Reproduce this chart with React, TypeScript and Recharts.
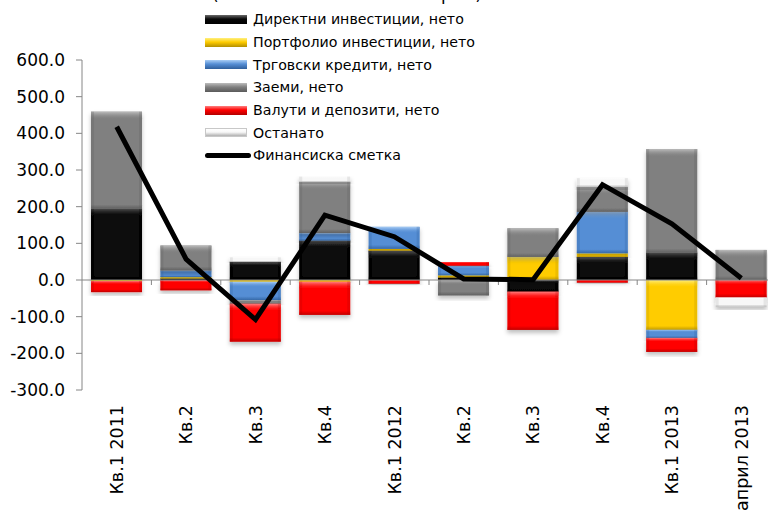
import React from "react";
import { ComposedChart, Bar, Line, XAxis, YAxis, ReferenceLine } from "recharts";

const CATEGORIES = ["Кв.1 2011", "Кв.2", "Кв.3", "Кв.4", "Кв.1 2012", "Кв.2", "Кв.3", "Кв.4", "Кв.1 2013", "април 2013"];
const DIRECT = [195, 4, 50, 108, 80, 7, -32, 63, 75, 0];
const PORTFOLIO = [-3, 4, -5, -5, 5, 6, 63, 10, -136, 0];
const TRADE = [0, 18, -50, 20, 60, 26, 0, 113, -22, 0];
const LOANS = [264, 68, -10, 140, 0, -42, 78, 68, 282, 82];
const CURRENCY = [-30, -28, -103, -90, -10, 10, -104, -7, -38, -48];
const OTHER = [0, 0, 12, 14, 0, 0, 0, 24, 0, -25];
const FINANCIAL = [418, 57, -108, 177, 118, 3, 1, 260, 153, 5];
const Y_TICKS = [-300, -200, -100, 0, 100, 200, 300, 400, 500, 600];
const TITLE = "(во милиони евра)";

const data = CATEGORIES.map((c, i) => ({
  name: c,
  direct: DIRECT[i],
  portfolio: PORTFOLIO[i],
  trade: TRADE[i],
  loans: LOANS[i],
  currency: CURRENCY[i],
  other: OTHER[i],
  fin: FINANCIAL[i],
}));

const SERIES = [
  { key: "direct", name: "Директни инвестиции, нето", color: "#080808", light: "#6a6a6a", dark: "#000000" },
  { key: "portfolio", name: "Портфолио инвестиции, нето", color: "#ffcc00", light: "#fff080", dark: "#b38f00" },
  { key: "trade", name: "Трговски кредити, нето", color: "#558ed5", light: "#a9cdf5", dark: "#2f5f9c" },
  { key: "loans", name: "Заеми, нето", color: "#808080", light: "#bdbdbd", dark: "#5a5a5a" },
  { key: "currency", name: "Валути и депозити, нето", color: "#ff0000", light: "#ff8080", dark: "#b30000" },
  { key: "other", name: "Останато", color: "#f7f7f7", light: "#ffffff", dark: "#b0b0b0" },
];

const FONT = "'DejaVu Sans', Verdana, sans-serif";

function Bevel(props: any) {
  const { x, y, width, height, s } = props;
  if (x == null || y == null || !width || !height) return null;
  const top = Math.min(y, y + height);
  const h = Math.abs(height);
  if (h < 0.5) return null;
  const hl = Math.min(8, h * 0.3);
  const bl = Math.min(4, h * 0.25);
  const side = Math.min(3, width * 0.1);
  return (
    <g filter="url(#barShadow)">
      <rect x={x} y={top} width={width} height={h} fill={s.color} />
      <rect x={x} y={top} width={width} height={hl} fill={`url(#hl-${s.key})`} />
      <rect x={x} y={top + h - bl} width={width} height={bl} fill={`url(#dk-${s.key})`} />
      <rect x={x} y={top} width={side} height={h} fill={s.dark} opacity={0.25} />
      <rect x={x + width - side} y={top} width={side} height={h} fill={s.dark} opacity={0.25} />
    </g>
  );
}

function XTick(props: any) {
  const { x, y, payload } = props;
  return (
    <text
      x={x}
      y={y + 15}
      transform={`rotate(-90, ${x}, ${y + 15})`}
      textAnchor="end"
      dy="0.36em"
      fontFamily={FONT}
      fontSize={17.5}
      fill="#000"
    >
      {payload.value}
    </text>
  );
}

function ZeroAxis(props: any) {
  const { x1, y1, x2, y2 } = props;
  const n = CATEGORIES.length;
  const step = (x2 - x1) / n;
  return (
    <g>
      <line x1={x1} y1={y1} x2={x2} y2={y2} stroke="#868686" strokeWidth={1} />
      {CATEGORIES.map((_, i) => (
        <line key={i} x1={x1 + (i + 1) * step} x2={x1 + (i + 1) * step} y1={y1} y2={y1 + 5} stroke="#868686" strokeWidth={1} />
      ))}
    </g>
  );
}

function LegendBox() {
  return (
    <div style={{ position: "absolute", left: 205, top: 8, fontFamily: FONT, fontSize: 14.2, color: "#000" }}>
      {SERIES.map((s) => (
        <div key={s.key} style={{ height: 22.7, display: "flex", alignItems: "center", whiteSpace: "nowrap" }}>
          <div
            style={{
              width: 42,
              height: 9,
              marginRight: 6,
              background: `linear-gradient(to bottom, ${s.light} 0%, ${s.color} 45%, ${s.dark} 100%)`,
              border: s.key === "other" ? "1px solid #c8c8c8" : "none",
              boxSizing: "border-box",
            }}
          />
          <span>{s.name}</span>
        </div>
      ))}
      <div style={{ height: 22.7, display: "flex", alignItems: "center", whiteSpace: "nowrap" }}>
        <div style={{ width: 46, height: 5, borderRadius: 3, background: "#000", marginRight: 2 }} />
        <span>Финансиска сметка</span>
      </div>
    </div>
  );
}

export default function App() {
  return (
    <div style={{ position: "absolute", left: 0, top: 0, width: 768, height: 515, overflow: "hidden", background: "#fff" }}>
      <svg width={0} height={0} style={{ position: "absolute" }}>
        <defs>
          <filter id="barShadow" x="-10%" y="-10%" width="130%" height="140%">
            <feDropShadow dx="0" dy="3" stdDeviation="2" floodColor="#000" floodOpacity="0.25" />
          </filter>
          {SERIES.map((s) => (
            <linearGradient key={"hl" + s.key} id={`hl-${s.key}`} x1="0" y1="0" x2="0" y2="1">
              <stop offset="0%" stopColor={s.light} stopOpacity={1} />
              <stop offset="100%" stopColor={s.color} stopOpacity={0} />
            </linearGradient>
          ))}
          {SERIES.map((s) => (
            <linearGradient key={"dk" + s.key} id={`dk-${s.key}`} x1="0" y1="0" x2="0" y2="1">
              <stop offset="0%" stopColor={s.dark} stopOpacity={0} />
              <stop offset="100%" stopColor={s.dark} stopOpacity={0.8} />
            </linearGradient>
          ))}
        </defs>
      </svg>
      <svg width={768} height={10} style={{ position: "absolute", left: 0, top: 0 }}>
        <text x={212} y={-0.5} textLength={270} lengthAdjust="spacing" fontFamily={FONT} fontSize={17} fill="#000">
          {TITLE}
        </text>
      </svg>
      <ComposedChart
        width={800}
        height={515}
        data={data}
        stackOffset="sign"
        barCategoryGap="13%"
        margin={{ top: 60, right: 24, bottom: 10, left: 0 }}
      >
        <XAxis dataKey="name" axisLine={false} tickLine={false} tickSize={0} tickMargin={0} height={115} interval={0} tick={<XTick />} />
        <YAxis
          domain={[-300, 600]}
          ticks={Y_TICKS}
          width={82}
          allowDataOverflow
          stroke="#868686"
          tickSize={6}
          tickMargin={11}
          tickFormatter={(v: number) => v.toFixed(1)}
          tick={{ fill: "#000", fontSize: 17, fontFamily: FONT }}
        />
        <ReferenceLine y={0} shape={(p: any) => <ZeroAxis {...p} />} />
        {SERIES.map((s) => (
          <Bar
            key={s.key}
            dataKey={s.key}
            name={s.name}
            stackId="a"
            fill={s.color}
            isAnimationActive={false}
            shape={(p: any) => <Bevel {...p} s={s} />}
          />
        ))}
        <Line type="linear" dataKey="fin" name="Финансиска сметка" stroke="#000" strokeWidth={5} dot={false} isAnimationActive={false} />
      </ComposedChart>
      <LegendBox />
    </div>
  );
}
